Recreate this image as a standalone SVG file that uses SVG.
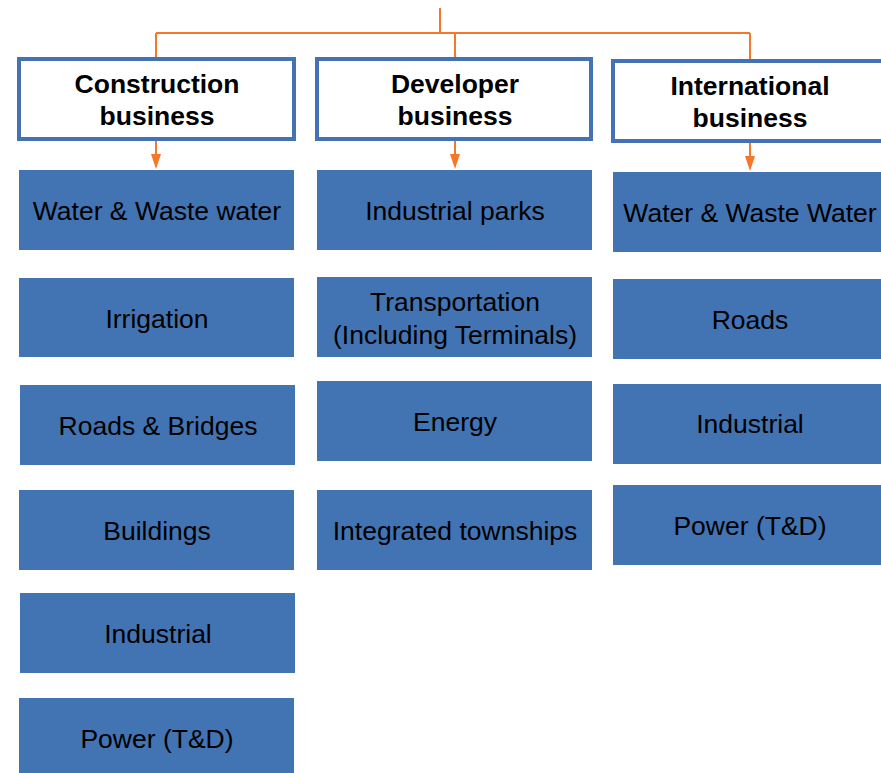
<svg xmlns="http://www.w3.org/2000/svg" width="881" height="773" viewBox="0 0 881 773">
<style>
.hdr{fill:#fff;stroke:#4472B4;stroke-width:4}
.box{fill:#4273B3}
.ht{font-family:"Liberation Sans",Arial,sans-serif;font-size:26.5px;font-weight:bold;fill:#000;text-anchor:middle}
.bt{font-family:"Liberation Sans",Arial,sans-serif;font-size:26.5px;fill:#000;text-anchor:middle}
.ln{stroke:#F5782A;stroke-width:2;fill:none}
.ah{fill:#F5782A}
</style>
<rect width="881" height="773" fill="#fff"/>
<g id="connectors">
<path class="ln" d="M440,8 V33 M156,33 H750 M156,33 V58 M455,33 V58 M750,33 V60"/>
<path class="ln" d="M156,141 V155"/>
<path class="ah" d="M151,154 L161,154 L156,169 Z"/>
<path class="ln" d="M455,141 V155"/>
<path class="ah" d="M450,154 L460,154 L455,169 Z"/>
<path class="ln" d="M750,143 V157"/>
<path class="ah" d="M745,156 L755,156 L750,171 Z"/>
</g>
<g id="h-construction"><rect class="hdr" x="19" y="59" width="275" height="80"/><text class="ht" x="157" y="93">Construction</text><text class="ht" x="157" y="125">business</text></g>
<g id="h-developer"><rect class="hdr" x="317" y="59" width="274" height="80"/><text class="ht" x="455" y="93">Developer</text><text class="ht" x="455" y="125">business</text></g>
<g id="h-international"><rect class="hdr" x="613" y="61" width="272" height="80"/><text class="ht" x="750" y="95">International</text><text class="ht" x="750" y="127">business</text></g>

<g id="c1"><rect class="box" x="19" y="170" width="275" height="80"/><text class="bt" x="157" y="220">Water &amp; Waste water</text></g>
<g id="c2"><rect class="box" x="19" y="278" width="275" height="79"/><text class="bt" x="157" y="328">Irrigation</text></g>
<g id="c3"><rect class="box" x="20" y="385" width="275" height="80"/><text class="bt" x="158" y="435">Roads &amp; Bridges</text></g>
<g id="c4"><rect class="box" x="19" y="490" width="275" height="80"/><text class="bt" x="157" y="540">Buildings</text></g>
<g id="c5"><rect class="box" x="20" y="593" width="275" height="80"/><text class="bt" x="158" y="643">Industrial</text></g>
<g id="c6"><rect class="box" x="19" y="698" width="275" height="75"/><text class="bt" x="157" y="748">Power (T&amp;D)</text></g>

<g id="d1"><rect class="box" x="317" y="170" width="275" height="80"/><text class="bt" x="455" y="220">Industrial parks</text></g>
<g id="d2"><rect class="box" x="317" y="277" width="275" height="80"/><text class="bt" x="455" y="311">Transportation</text><text class="bt" x="455" y="344">(Including Terminals)</text></g>
<g id="d3"><rect class="box" x="317" y="381" width="275" height="80"/><text class="bt" x="455" y="431">Energy</text></g>
<g id="d4"><rect class="box" x="317" y="490" width="275" height="80"/><text class="bt" x="455" y="540">Integrated townships</text></g>

<g id="i1"><rect class="box" x="613" y="172" width="268" height="80"/><text class="bt" x="750" y="222">Water &amp; Waste Water</text></g>
<g id="i2"><rect class="box" x="613" y="279" width="268" height="80"/><text class="bt" x="750" y="329">Roads</text></g>
<g id="i3"><rect class="box" x="613" y="384" width="268" height="80"/><text class="bt" x="750" y="433">Industrial</text></g>
<g id="i4"><rect class="box" x="613" y="485" width="268" height="80"/><text class="bt" x="750" y="535">Power (T&amp;D)</text></g>
</svg>
